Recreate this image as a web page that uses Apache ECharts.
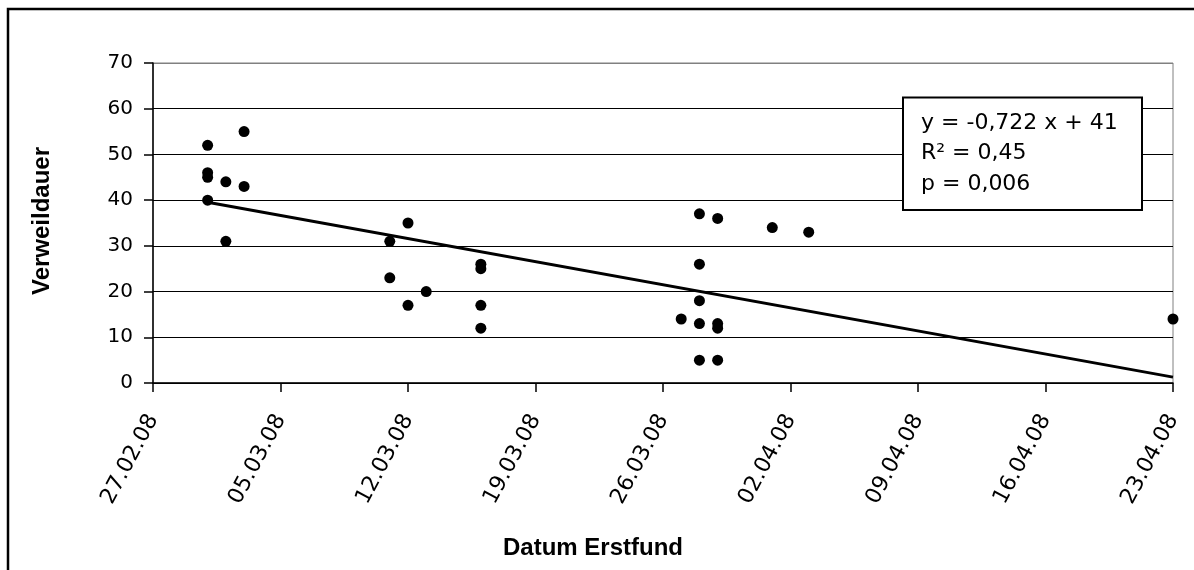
<!DOCTYPE html>
<html>
<head>
<meta charset="utf-8">
<script src="https://cdn.jsdelivr.net/npm/echarts@6/dist/echarts.min.js"></script>
<style>
  html, body { margin: 0; padding: 0; background: #fff; }
  #chart { width: 1194px; height: 570px; }
</style>
</head>
<body>
<div id="chart"></div>
<script>
// Weekly tick labels on the date axis
const tickLabels = ['27.02.08', '05.03.08', '12.03.08', '19.03.08', '26.03.08',
                    '02.04.08', '09.04.08', '16.04.08', '23.04.08'];

// Date of first find and dwell time (days) for every observation
const findDates = [
  '01.03.08', '01.03.08', '01.03.08', '01.03.08',
  '02.03.08', '02.03.08',
  '03.03.08', '03.03.08',
  '11.03.08', '11.03.08',
  '12.03.08', '12.03.08',
  '13.03.08',
  '16.03.08', '16.03.08', '16.03.08', '16.03.08',
  '27.03.08',
  '28.03.08', '28.03.08', '28.03.08', '28.03.08', '28.03.08',
  '29.03.08', '29.03.08', '29.03.08', '29.03.08',
  '01.04.08',
  '03.04.08',
  '23.04.08'
];
const dwellTimes = [
  52, 46, 45, 40,
  44, 31,
  55, 43,
  31, 23,
  35, 17,
  20,
  26, 25, 17, 12,
  14,
  37, 26, 18, 13, 5,
  36, 13, 12, 5,
  34,
  33,
  14
];

// Linear trend as stated in the box (x = days counted from 28.02.08)
const trendSlope = -0.722;
const trendIntercept = 41;
const trendOrigin = '28.02.08';
const statLines = ['y = -0,722 x + 41', 'R\u00B2 = 0,45', 'p = 0,006'];

const yTicks = [0, 10, 20, 30, 40, 50, 60, 70];

function dayNumber(s) {
  const [d, m, y] = s.split('.').map(Number);
  return Date.UTC(2000 + y, m - 1, d) / 86400000;
}
const axisStart = dayNumber(tickLabels[0]);
const xOf = s => dayNumber(s) - axisStart;

const points = findDates.map((d, i) => [xOf(d), dwellTimes[i]]);
const xs = points.map(p => p[0]);
const trendX0 = Math.min(...xs), trendX1 = Math.max(...xs);
const trendShift = dayNumber(trendOrigin) - axisStart;
const trendAt = x => trendSlope * (x - trendShift) + trendIntercept;

const regular = 'DejaVu Sans';
const bold = 'Liberation Sans, Arial, sans-serif';

const chart = echarts.init(document.getElementById('chart'), null, { renderer: 'canvas' });
chart.setOption({
  animation: false,
  backgroundColor: '#fff',
  grid: {
    left: 153, right: 21, top: 63, bottom: 187,
    show: true, borderColor: '#808080', borderWidth: 1, backgroundColor: 'transparent'
  },
  xAxis: {
    type: 'value',
    min: 0, max: (tickLabels.length - 1) * 7, interval: 7,
    axisLine: { lineStyle: { color: '#000', width: 1.5 } },
    axisTick: { length: 9, lineStyle: { color: '#000', width: 1.5 } },
    axisLabel: {
      rotate: 62, margin: 33, color: '#000',
      fontFamily: regular, fontSize: 22,
      showMinLabel: true, showMaxLabel: true,
      formatter: v => tickLabels[Math.round(v / 7)]
    },
    splitLine: { show: false }
  },
  yAxis: {
    type: 'value',
    min: yTicks[0], max: yTicks[yTicks.length - 1], interval: 10,
    axisLine: { show: true, lineStyle: { color: '#000', width: 1.5 } },
    axisTick: { show: true, length: 9, lineStyle: { color: '#000', width: 1.5 } },
    axisLabel: { margin: 20, color: '#000', fontFamily: regular, fontSize: 20 },
    splitLine: {
      lineStyle: {
        color: yTicks.map((t, i) => i === yTicks.length - 1 ? '#808080' : '#000'),
        width: 1.2
      }
    }
  },
  series: [
    {
      type: 'line',
      data: [[trendX0, trendAt(trendX0)], [trendX1, trendAt(trendX1)]],
      symbol: 'none',
      lineStyle: { color: '#000', width: 3 },
      z: 2
    },
    {
      type: 'scatter',
      data: points,
      symbol: 'circle',
      symbolSize: 11,
      itemStyle: { color: '#000', opacity: 1 },
      z: 3
    }
  ],
  graphic: [
    {
      type: 'rect', z: 100, silent: true,
      shape: { x: 8, y: 9, width: 1400, height: 800 },
      style: { fill: 'none', stroke: '#000', lineWidth: 2.5 }
    },
    {
      type: 'text', z: 100,
      x: 42, y: 221, rotation: Math.PI / 2,
      style: {
        text: 'Verweildauer', fill: '#000',
        font: 'bold 24px ' + bold, align: 'center', verticalAlign: 'middle'
      }
    },
    {
      type: 'text', z: 100,
      x: 593, y: 548,
      style: {
        text: 'Datum Erstfund', fill: '#000',
        font: 'bold 24px ' + bold, align: 'center', verticalAlign: 'middle'
      }
    },
    {
      type: 'rect', z: 100,
      shape: { x: 903, y: 97.5, width: 239, height: 112.5 },
      style: { fill: '#fff', stroke: '#000', lineWidth: 2 }
    },
    ...statLines.map((t, i) => ({
      type: 'text', z: 101,
      x: 921, y: 123 + i * 30.7,
      style: {
        text: t, fill: '#000',
        font: '22px ' + regular, align: 'left', verticalAlign: 'middle'
      }
    }))
  ]
});
</script>
</body>
</html>
